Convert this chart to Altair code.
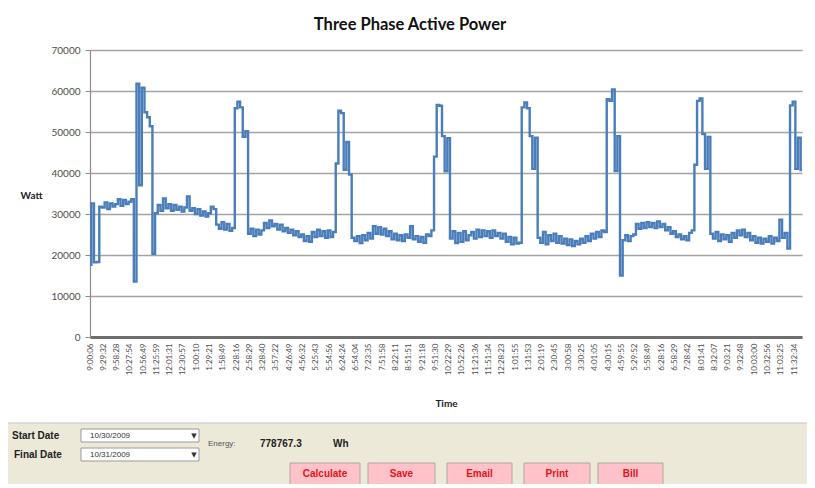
import json
import altair as alt
import pandas as pd

# ---- data ----
time_labels = [
    "9:00:06", "9:29:32", "9:58:28", "10:27:54", "10:56:49", "11:25:59", "12:01:31", "12:30:57",
    "1:00:10", "1:29:21", "1:58:49", "2:28:16", "2:58:29", "3:28:40", "3:57:22", "4:26:49",
    "4:56:32", "5:25:43", "5:54:56", "6:24:24", "6:54:04", "7:23:35", "7:51:58", "8:22:11",
    "8:51:51", "9:21:18", "9:51:30", "10:22:29", "10:52:26", "11:21:36", "11:51:34", "12:28:23",
    "1:01:55", "1:31:53", "2:01:19", "2:30:45", "3:00:58", "3:30:25", "4:01:05", "4:30:15",
    "4:59:55", "5:29:52", "5:58:49", "6:28:16", "6:58:29", "7:28:42", "8:01:41", "8:32:07",
    "9:03:21", "9:32:48", "10:03:00", "10:32:56", "11:03:25", "11:32:34",
]
samples_per_label = 5

watt = [
    17600, 32600, 18200, 18300, 31800,
    31600, 32800, 31200, 32600, 31800,
    32400, 33600, 32000, 33400, 32400,
    33000, 33600, 13500, 61800, 37000,
    60800, 54800, 53600, 51400, 20300,
    30200, 32200, 30800, 33800, 31400,
    32400, 30800, 32200, 31000, 31800,
    30600, 31600, 34300, 30800, 31400,
    30000, 31200, 29600, 30600, 29400,
    30200, 31800, 31200, 27400, 26400,
    28000, 26200, 27600, 25900, 26600,
    55800, 57400, 56000, 48800, 50200,
    25200, 26400, 24600, 26200, 25000,
    26000, 27800, 26600, 28400, 27000,
    27600, 26200, 27400, 25800, 26600,
    25400, 26200, 24800, 25800, 24400,
    25000, 23400, 24600, 23200, 25600,
    24400, 26200, 24600, 25800, 24200,
    26000, 24400, 25600, 42300, 55200,
    54600, 40800, 47600, 39600, 24200,
    23400, 24600, 22900, 24800, 23600,
    25400, 24000, 27000, 25200, 26800,
    25000, 26400, 24600, 25800, 23800,
    25200, 23600, 24800, 23400, 25000,
    24200, 27000, 23800, 24600, 23200,
    24400, 23000, 25000, 24600, 26000,
    44000, 56600, 56400, 49000, 40400,
    48500, 24000, 25800, 22900, 25400,
    23200, 25800, 23600, 24800, 25600,
    24000, 26200, 24400, 26000, 24600,
    25800, 24200, 26000, 24600, 25400,
    24000, 25200, 23200, 24400, 22600,
    24200, 22800, 23000, 56000, 57200,
    55800, 49000, 41000, 48600, 24200,
    23000, 25600, 22600, 24800, 23400,
    25200, 23000, 24600, 22800, 24000,
    22400, 23800, 22200, 23400, 22600,
    24000, 23000, 24600, 23400, 25200,
    24000, 25600, 24400, 26000, 25600,
    58000, 57600, 60400, 40500, 49000,
    15000, 23600, 24800, 23400, 24600,
    25000, 27600, 26400, 27800, 26600,
    28000, 26800, 27800, 26600, 28200,
    26800, 27600, 26000, 26800, 25200,
    25800, 24400, 25000, 23800, 24600,
    23600, 25400, 26000, 42000, 57600,
    58200, 49500, 41000, 48800, 25200,
    24000, 25600, 23400, 25000, 23800,
    24800, 23200, 25400, 24200, 26000,
    24800, 26200, 24400, 25400, 23600,
    24600, 23000, 24200, 22800, 24000,
    23200, 24600, 22800, 24200, 23400,
    28600, 24200, 25400, 21600, 56500,
    57400, 41000, 48600, 40700,
]
y_ticks = [0, 10000, 20000, 30000, 40000, 50000, 60000, 70000]

chart_title = "Three Phase Active Power"
start_date = "10/30/2009"
final_date = "10/31/2009"
energy_value = "778767.3"
energy_unit = "Wh"
buttons = ["Calculate", "Save", "Email", "Print", "Bill"]

# ---- chart ----
N = len(watt)
df = pd.DataFrame({"i": list(range(N)), "watt": watt})
tick_idx = [k * samples_per_label for k in range(len(time_labels))]
label_expr = json.dumps(time_labels) + f"[round(datum.value / {samples_per_label})]"

W, H = 712, 287
AX = "Lato"
UI = "Liberation Sans"
one = alt.Data(values=[{"a": 1}])


def txt(s, x, y, size=10, weight="normal", color="#222222", align="left", font=UI):
    return alt.Chart(one).mark_text(
        text=s, align=align, baseline="middle", fontSize=size, fontWeight=weight,
        color=color, font=font
    ).encode(x=alt.value(x), y=alt.value(y))


def box(x, x2, y, y2, fill, stroke, sw=1):
    return alt.Chart(one).mark_rect(fill=fill, stroke=stroke, strokeWidth=sw).encode(
        x=alt.value(x), x2=alt.value(x2), y=alt.value(y), y2=alt.value(y2)
    )


line = alt.Chart(df).mark_line(color="#4A7EBB", strokeWidth=2.4, interpolate="step").encode(
    x=alt.X(
        "i:Q",
        scale=alt.Scale(domain=[0, N - 1], nice=False, zero=False),
        axis=alt.Axis(
            values=tick_idx, labelExpr=label_expr, labelAngle=270, labelFontSize=8,
            labelFont=AX, labelColor="#4d4d4d", labelOverlap=False, labelFlush=False,
            labelPadding=6, ticks=False, grid=False, domainColor="#6e6e6e", domainWidth=3,
            title="Time", titleFont=AX, titleFontSize=10, titleFontWeight="bold",
            titleColor="#222222", titleY=66, titleBaseline="middle",
        ),
    ),
    y=alt.Y(
        "watt:Q",
        scale=alt.Scale(domain=[0, 70000], nice=False),
        axis=alt.Axis(
            values=y_ticks, format="d", labelFont=AX, labelFontSize=10, labelColor="#4d4d4d",
            labelPadding=5, tickSize=5, tickColor="#8c8c8c", domainColor="#8c8c8c",
            domainWidth=1.2, gridColor="#a3a3a3", gridWidth=1.4,
            title="Watt", titleAngle=0, titleX=-59, titleY=145, titleAlign="center",
            titleBaseline="middle", titleFont=AX, titleFontSize=10, titleFontWeight="bold",
            titleColor="#222222",
        ),
    ),
)

layers = [
    box(-95, 730, 373, 445, "#ECE9D8", "#cccccc"),
    box(-86, 722, -46, 373, "transparent", "#d6d6d6"),
    line,
    txt(chart_title, 320, -25, size=16.5, weight="bold", color="#111111", align="center", font=AX),
    # date pickers
    txt("Start Date", -78, 386, size=10, weight="bold"),
    txt("Final Date", -76, 405, size=10, weight="bold"),
    box(-9, 109, 379, 392, "#ffffff", "#9a9a9a"),
    box(-9, 109, 398, 411, "#ffffff", "#9a9a9a"),
    txt(start_date, 0, 386, size=8, color="#333333"),
    txt(final_date, 0, 405, size=8, color="#333333"),
    txt("\u25bc", 104, 386, size=7, color="#333333", align="center", font="DejaVu Sans"),
    txt("\u25bc", 104, 405, size=7, color="#333333", align="center", font="DejaVu Sans"),
    # energy readout
    txt("Energy:", 118, 394, size=8, color="#555555"),
    txt(energy_value, 170, 394, size=10, weight="bold"),
    txt(energy_unit, 243, 394, size=10, weight="bold"),
]

btn_x = [(200, 270), (278, 345), (357, 422), (434, 500), (508, 573)]
for name, (x0, x1) in zip(buttons, btn_x):
    layers.append(box(x0, x1, 413, 435, "#FFC2C8", "#a8a8a8"))
    layers.append(txt(name, (x0 + x1) / 2, 424, size=10, weight="bold", color="#E3121B", align="center"))

chart = alt.layer(*layers).properties(
    width=W, height=H,
    autosize=alt.AutoSizeParams(type="none"),
    padding={"left": 82, "top": 42, "right": 5, "bottom": 147},
    background="#ffffff",
).configure_view(strokeWidth=0)

chart.save("out.html", embed_options={"renderer": "svg", "actions": False})
